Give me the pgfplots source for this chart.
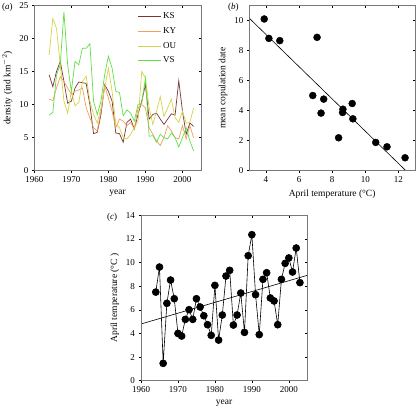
\documentclass[border=0pt]{standalone}
\usepackage{pgfplots}
\pgfplotsset{compat=1.18}
\usepackage{fontspec}
\setmainfont{Liberation Serif}
\definecolor{cKS}{RGB}{120,55,55}
\definecolor{cKY}{RGB}{240,160,90}
\definecolor{cOU}{RGB}{215,210,70}
\definecolor{cVS}{RGB}{95,225,70}
\definecolor{frame}{RGB}{120,120,120}
\pgfplotsset{
  base/.style={scale only axis, anchor=south west,
    axis line style={frame, line width=0.6pt},
    tick style={black, line width=0.5pt}, major tick length=2.5pt,
    font=\fontsize{9}{10}\selectfont,
    /pgf/number format/assume math mode=true,
    /pgf/number format/1000 sep={},
    label style={font=\fontsize{9.5}{11}\selectfont}},
  lowticks/.style={base, tick align=outside, tick pos=left},
  highticks/.style={base, tick align=inside, tick pos=right, xticklabels={}, yticklabels={}},
}
\begin{document}
\begin{tikzpicture}[x=1pt,y=1pt]
\useasboundingbox (0,0) rectangle (417,408);
% ---------- panel (a)
\begin{axis}[lowticks, at={(34.3pt,237.3pt)}, width=166.7pt, height=165.4pt,
  xmin=1960, xmax=2005, ymin=0, ymax=25, xtick={1960,1970,...,2000}, ytick={0,5,...,25},
  xlabel={year}, ylabel={density (ind km$^{-2}$)},
  legend style={draw=none, fill=none, at={(0.6,0.98)}, anchor=north west, font=\fontsize{9}{10}\selectfont, row sep=3.3pt},
  legend cell align=left,
  legend image code/.code={\draw[#1] (0pt,0pt) -- (23pt,0pt);},
  every axis plot/.append style={line width=0.7pt}]
\addplot[cKS] coordinates {(1964,14.5)(1965,12.7)(1966,15)(1967,16.5)(1968,13.5)(1969,10.2)(1970,10.5)(1971,12.5)(1972,13.4)(1973,13.3)(1974,13.2)(1975,10)(1976,5.6)(1977,5.8)(1978,8.5)(1979,13)(1980,12)(1981,10.5)(1982,5.7)(1983,5.6)(1984,4.3)(1985,7.3)(1986,7.8)(1987,6.3)(1988,8.5)(1989,10.5)(1990,13)(1991,7.8)(1992,8.5)(1993,8.7)(1994,7.8)(1995,7)(1996,7.8)(1997,8.6)(1998,8.4)(1999,13.6)(2000,9)(2001,5.5)(2002,7.2)(2003,6.7)};
\addlegendentry{KS}
\addplot[cKY] coordinates {(1964,10.8)(1965,10.6)(1966,12.5)(1967,14.2)(1968,13.5)(1969,12.5)(1970,11.5)(1971,12)(1972,12.2)(1973,12.5)(1974,9.5)(1975,8)(1976,6.5)(1977,6)(1978,9)(1979,12.8)(1980,11)(1981,9)(1982,6.5)(1983,7.8)(1984,7.5)(1985,6.8)(1986,7.3)(1987,6.3)(1988,9.5)(1989,10)(1990,9.5)(1991,6.5)(1992,5.5)(1993,4.5)(1994,3.8)(1995,5)(1996,6.8)(1997,6)(1998,5)(1999,4.8)(2000,6.8)(2001,4.8)(2002,6.8)(2003,5)};
\addlegendentry{KY}
\addplot[cOU] coordinates {(1964,17.5)(1965,23)(1966,21.5)(1967,16)(1968,10.5)(1969,8.7)(1970,12)(1971,9.8)(1972,10.3)(1973,13.5)(1974,14.3)(1975,10.5)(1976,8.5)(1977,7.2)(1978,9.5)(1979,12.5)(1980,15.5)(1981,12)(1982,7)(1983,6.5)(1984,5)(1985,4.8)(1986,5.5)(1987,6.5)(1988,7.5)(1989,15)(1990,14)(1991,9.5)(1992,7)(1993,9)(1994,11.2)(1995,8.2)(1996,9.5)(1997,10.8)(1998,8)(1999,7.3)(2000,9)(2001,7.2)(2002,7.3)(2003,9.5)};
\addlegendentry{OU}
\addplot[cVS] coordinates {(1964,8.4)(1965,8.8)(1966,14.5)(1967,16)(1968,24)(1969,16)(1970,12)(1971,16.5)(1972,16)(1973,18.5)(1974,18.5)(1975,19.2)(1976,10.5)(1977,8.5)(1978,10.5)(1979,14.5)(1980,17.3)(1981,15.5)(1982,12)(1983,11.8)(1984,8.3)(1985,9.2)(1986,8.7)(1987,7.5)(1988,10)(1989,10.2)(1990,14)(1991,5.2)(1992,5.3)(1993,4.3)(1994,5.5)(1995,5)(1996,4.8)(1997,5.7)(1998,5)(1999,3.6)(2000,5)(2001,6.5)(2002,4.5)(2003,3)};
\addlegendentry{VS}
\end{axis}
\begin{axis}[highticks, at={(34.3pt,237.3pt)}, width=166.7pt, height=165.4pt,
  xmin=1960, xmax=2005, ymin=0, ymax=25, xtick={1960,1970,...,2000}, ytick={0,5,...,25}]
\end{axis}
% ---------- panel (b)
\begin{axis}[lowticks, at={(249.3pt,237.3pt)}, width=165.7pt, height=165.4pt,
  xmin=3, xmax=13, ymin=0, ymax=11, xtick={4,6,...,12}, ytick={0,2,...,10},
  xlabel={April temperature (°C)}, ylabel={mean copulation date}]
\addplot[black, line width=0.6pt] coordinates {(3,10.14)(12.45,0)};
\addplot[only marks, mark=*, mark size=3.5pt, black] coordinates {(3.9,10.09)(4.18,8.8)(4.84,8.65)(7.09,8.87)(6.83,5.0)(7.49,4.76)(7.33,3.83)(8.39,2.19)(8.65,4.09)(8.63,3.87)(9.21,4.47)(9.25,3.45)(10.63,1.88)(11.31,1.59)(12.4,0.86)};
\end{axis}
\begin{axis}[highticks, at={(249.3pt,237.3pt)}, width=165.7pt, height=165.4pt,
  xmin=3, xmax=13, ymin=0, ymax=11, xtick={4,6,...,12}, ytick={0,2,...,10}]
\end{axis}
% ---------- panel (c)
\begin{axis}[lowticks, at={(141pt,27.3pt)}, width=166.3pt, height=165.4pt,
  xmin=1960, xmax=2005, ymin=0, ymax=14, xtick={1960,1970,...,2000}, ytick={0,2,...,14},
  xlabel={year}, ylabel={April temperature (°C )}]
\addplot[black, line width=0.6pt] coordinates {(1960,4.8)(2005,8.92)};
\addplot[black, line width=0.6pt, mark=*, mark size=3.5pt] coordinates {(1964,7.5)(1965,9.62)(1966,1.47)(1967,6.55)(1968,8.52)(1969,6.94)(1970,4.0)(1971,3.78)(1972,5.19)(1973,6.01)(1974,5.19)(1975,6.94)(1976,6.24)(1977,5.5)(1978,4.74)(1979,3.84)(1980,8.07)(1981,3.44)(1982,5.56)(1983,8.86)(1984,9.34)(1985,4.71)(1986,5.56)(1987,7.42)(1988,4.09)(1989,10.58)(1990,12.36)(1991,7.28)(1992,3.9)(1993,8.58)(1994,9.14)(1995,7.0)(1996,6.75)(1997,4.74)(1998,8.58)(1999,9.93)(2000,10.39)(2001,9.2)(2002,11.23)(2003,8.3)};
\end{axis}
\begin{axis}[highticks, at={(141pt,27.3pt)}, width=166.3pt, height=165.4pt,
  xmin=1960, xmax=2005, ymin=0, ymax=14, xtick={1960,1970,...,2000}, ytick={0,2,...,14}]
\end{axis}
% panel letters
\node[anchor=north west, inner sep=0pt, font=\fontsize{9}{10}\selectfont] at (2,405) {(\textit{a})};
\node[anchor=north west, inner sep=0pt, font=\fontsize{9}{10}\selectfont] at (228,405) {(\textit{b})};
\node[anchor=north west, inner sep=0pt, font=\fontsize{9}{10}\selectfont] at (107,195) {(\textit{c})};
\end{tikzpicture}
\end{document}
